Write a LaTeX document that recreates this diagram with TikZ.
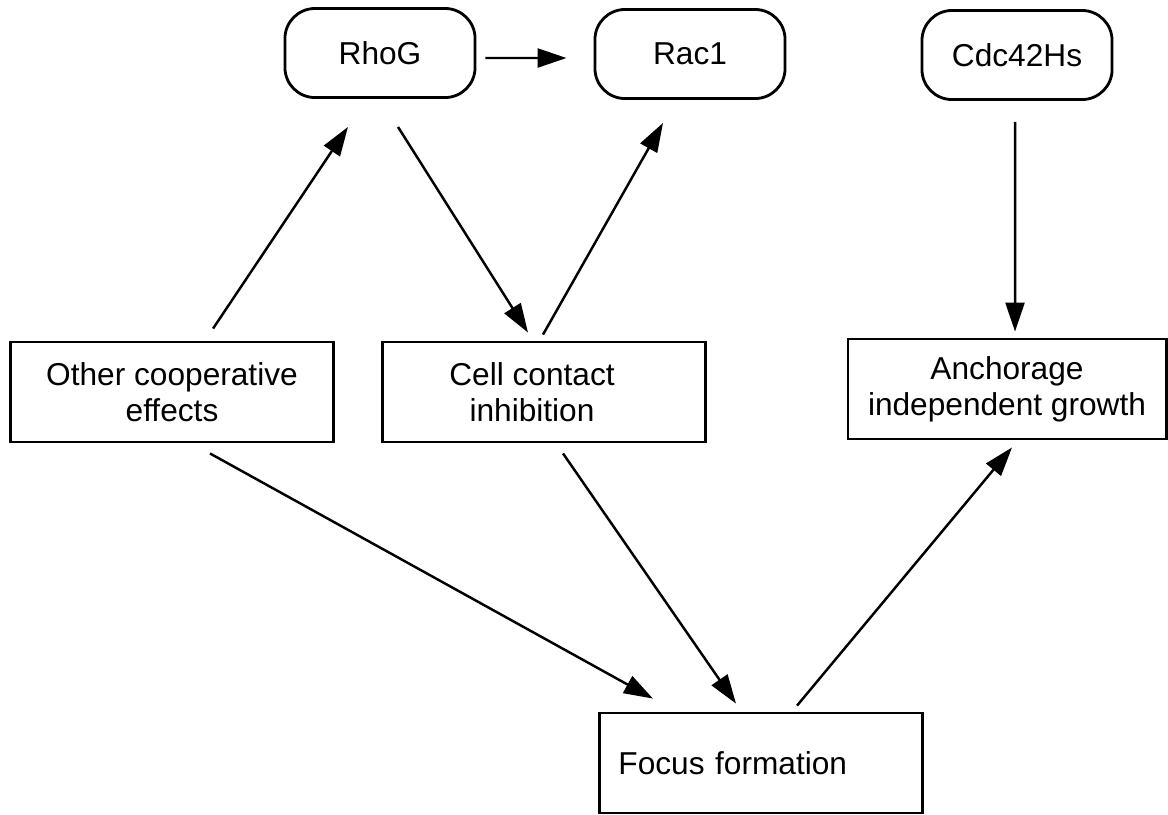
\documentclass[tikz,border=0pt]{standalone}
\usepackage{fontspec}
\setmainfont{Liberation Sans}
\usetikzlibrary{arrows.meta}
\begin{document}
\begin{tikzpicture}[x=0.01cm,y=-0.01cm,
		gene/.style={draw,line width=0.8pt,rounded corners=0.3cm,minimum width=1.9cm,minimum height=0.89cm,font=\fontsize{9}{10.3}\selectfont},
		effect/.style={draw,line width=0.8pt,minimum width=3.23cm,minimum height=1cm,align=center,font=\fontsize{9}{10.3}\selectfont},
		conn/.style={line width=0.7pt,-{Triangle[length=0.29cm,width=0.19cm]}}]
		\useasboundingbox (0,0) rectangle (1168,814);
		\node[gene] (rhog) at (380,53) {RhoG};
		\node[gene] (rac1) at (690,54) {Rac1};
		\node[gene] (cdc) at (1017,55) {Cdc42Hs};
		\node[effect] (other) at (172,392) {Other cooperative\\effects};
		\node[effect] (cell) at (544,392) {\hspace*{-0.24cm}Cell contact\\\hspace*{-0.24cm}inhibition};
		\node[effect,minimum width=3.18cm] (anch) at (1007,389) {Anchorage\\independent growth};
		\node[effect,align=left,text width=2.85cm,inner xsep=0.19cm] (focus) at (761,763) {Focus formation};
		\draw[conn] ([shift={(0.09cm,-0.05cm)}]rhog.east) -- ([shift={(-0.27cm,-0.04cm)}]rac1.west);
		\draw[conn] ([shift={(0.41cm,0.12cm)}]other.north) -- ([shift={(-0.32cm,-0.28cm)}]rhog.south);
		\draw[conn] ([shift={(0.18cm,-0.28cm)}]rhog.south) -- ([shift={(-0.16cm,0.08cm)}]cell.north);
		\draw[conn] ([shift={(-0.01cm,0.06cm)}]cell.north) -- ([shift={(-0.27cm,-0.23cm)}]rac1.south);
		\draw[conn] ([shift={(-0.02cm,-0.21cm)}]cdc.south) -- ([shift={(0.08cm,0.06cm)}]anch.north);
		\draw[conn] ([shift={(0.38cm,-0.10cm)}]other.south) -- ([shift={(-1.08cm,0.13cm)}]focus.north);
		\draw[conn] ([shift={(0.19cm,-0.10cm)}]cell.south) -- ([shift={(-0.25cm,0.08cm)}]focus.north);
		\draw[conn] ([shift={(0.36cm,0.06cm)}]focus.north) -- ([shift={(0.05cm,-0.07cm)}]anch.south);
	\end{tikzpicture}
\end{document}
